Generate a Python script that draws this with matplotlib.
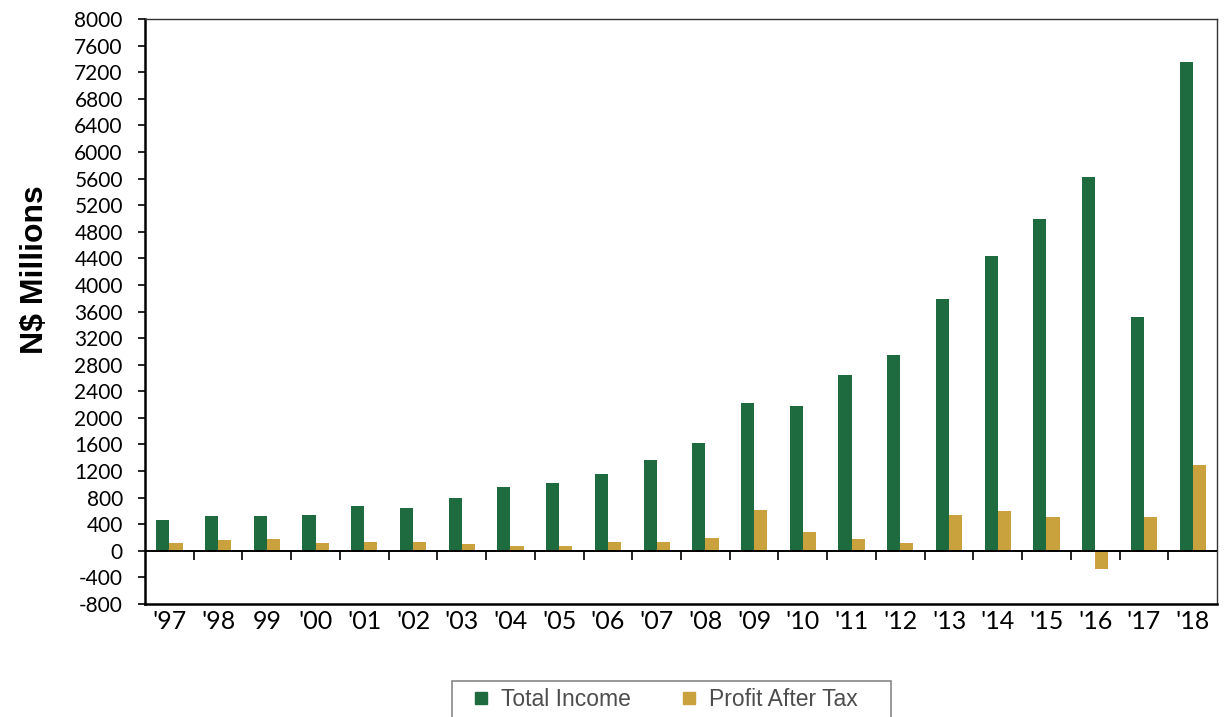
import numpy as np
import matplotlib
matplotlib.use("Agg")
import matplotlib.pyplot as plt
from matplotlib.lines import Line2D
from matplotlib.patches import Rectangle

# values (N$ millions)
years = ["'97", "'98", "99", "'00", "'01", "'02", "'03", "'04", "'05", "'06", "'07",
         "'08", "'09", "'10", "'11", "'12", "'13", "'14", "'15", "'16", "'17", "'18"]
total_income = [460, 520, 520, 540, 680, 640, 800, 960, 1020, 1160, 1360,
                1620, 2220, 2180, 2640, 2940, 3790, 4440, 4990, 5630, 3520, 7360]
profit_after_tax = [120, 170, 180, 120, 130, 140, 100, 80, 80, 130, 130,
                    190, 610, 280, 180, 120, 540, 600, 510, -280, 510, 1290]

green = "#1f6b40"
gold = "#c9a23e"

plt.rcParams["font.family"] = ["Lato", "DejaVu Sans"]
plt.rcParams["axes.unicode_minus"] = False

fig = plt.figure(figsize=(12.24, 7.17), dpi=100)
ax = fig.add_axes([0.1185, 0.1576, 0.8758, 0.8159])

x = np.arange(len(years))
w = 0.27
ax.bar(x - w / 2, total_income, width=w, color=green, zorder=2)
ax.bar(x + w / 2, profit_after_tax, width=w, color=gold, zorder=2)

ax.set_xlim(-0.5, len(years) - 0.5)
ax.set_ylim(-800, 8000)
ax.set_yticks(np.arange(-800, 8001, 400))
ax.tick_params(axis="y", length=5, width=1.2, pad=11, labelsize=15)
ax.set_xticks(x)
ax.set_xticklabels(years)
ax.tick_params(axis="x", length=0, pad=4, labelsize=18)

# zero line with category separators hanging below it
ax.axhline(0, color="black", lw=1.4, zorder=3)
ax.vlines(x[:-1] + 0.5, -135, 0, color="black", lw=1.2, zorder=3)

for side in ["left", "bottom"]:
    ax.spines[side].set_linewidth(1.8)
    ax.spines[side].set_color("black")
for side in ["top", "right"]:
    ax.spines[side].set_linewidth(1.0)
    ax.spines[side].set_color("#333333")

fig.text(35 / 1224, 1 - 270 / 717, "N$ Millions", rotation=90, ha="center", va="center",
         fontsize=23, fontweight="bold", family=["Liberation Sans", "DejaVu Sans"])

# legend (frame drawn separately, runs off the bottom edge)
fig.patches.append(Rectangle((452 / 1224, -0.05), 439 / 1224, 0.05 + 36 / 717,
                             transform=fig.transFigure, fill=False, edgecolor="#888888", lw=1.2))
handles = [Line2D([], [], marker="s", ls="", color=green, markersize=9),
           Line2D([], [], marker="s", ls="", color=gold, markersize=9)]
fig.legend(handles, ["Total Income", "Profit After Tax"], loc="center",
           bbox_to_anchor=((452 + 880) / 2 / 1224, 1 - 700 / 717), ncol=2, frameon=False,
           handlelength=0.6, handletextpad=0.6, columnspacing=2.2,
           prop={"family": ["Liberation Sans", "DejaVu Sans"], "size": 16.5},
           labelcolor="#4d4d4d")

fig.savefig("out.png", dpi=100)
